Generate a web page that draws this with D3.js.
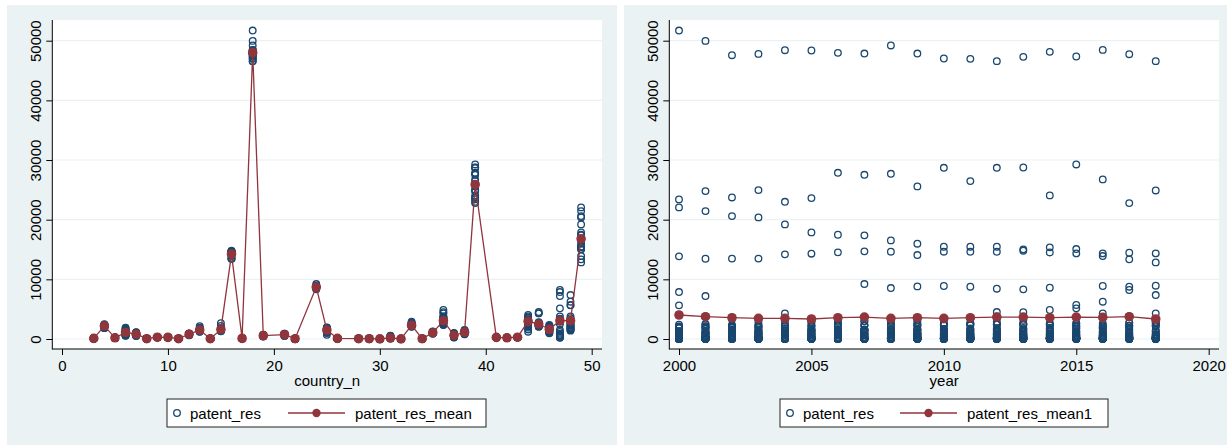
<!DOCTYPE html>
<html>
<head>
<meta charset="utf-8">
<script src="https://cdn.jsdelivr.net/npm/d3@7"></script>
<style>
  body { margin: 0; background: #fff; }
  text { font-family: "Liberation Sans", Arial, Helvetica, sans-serif; fill: #000; }
</style>
</head>
<body>
<svg id="chart"></svg>
<script>
// data
var years = [2000, 2001, 2002, 2003, 2004, 2005, 2006, 2007, 2008, 2009,
             2010, 2011, 2012, 2013, 2014, 2015, 2016, 2017, 2018];

var countryN = [3, 4, 5, 6, 7, 8, 9, 10, 11, 12, 13, 14, 15, 16, 17, 18, 19, 21, 22,
                24, 25, 26, 28, 29, 30, 31, 32, 33, 34, 35, 36, 37, 38, 39,
                41, 42, 43, 44, 45, 46, 47, 48, 49];

// patent_res, one row per country (same order as countryN), one value per year
var patentRes = [
  [60, 80, 90, 110, 120, 100, 90, 110, 130, 120, 100, 80, 90, 110, 120, 100, 90, 110, 120],
  [1820, 1900, 1960, 2050, 2130, 2080, 2210, 2270, 2190, 2330, 2360, 2290, 2410, 2480, 2350, 2260, 2300, 2180, 2240],
  [150, 170, 180, 200, 190, 210, 220, 230, 200, 210, 190, 220, 240, 210, 200, 190, 210, 230, 220],
  [1880, 1720, 1580, 1460, 1390, 1270, 1150, 1120, 1010, 980, 910, 870, 790, 740, 720, 660, 610, 580, 530],
  [1160, 1090, 1050, 970, 940, 870, 860, 800, 790, 750, 740, 690, 690, 640, 630, 590, 580, 530, 520],
  [30, 40, 50, 60, 50, 40, 60, 50, 40, 50, 60, 70, 50, 40, 50, 60, 50, 40, 60],
  [260, 280, 300, 310, 290, 320, 300, 280, 310, 330, 300, 290, 310, 320, 300, 280, 290, 310, 300],
  [240, 260, 270, 280, 290, 270, 260, 280, 300, 290, 280, 270, 290, 300, 280, 270, 260, 290, 300],
  [30, 40, 50, 60, 40, 50, 60, 50, 40, 50, 60, 50, 40, 60, 50, 40, 50, 60, 50],
  [620, 650, 700, 720, 750, 760, 780, 800, 810, 830, 850, 860, 870, 880, 900, 890, 870, 850, 840],
  [1220, 1260, 1300, 1330, 1360, 1400, 1420, 1450, 1470, 1500, 1530, 1550, 1580, 1610, 1650, 1700, 1780, 1880, 2150],
  [40, 50, 60, 50, 40, 50, 60, 50, 45, 55, 50, 40, 60, 50, 45, 55, 50, 40, 60],
  [1300, 1340, 1380, 1420, 1450, 1480, 1500, 1520, 1540, 1560, 1580, 1600, 1630, 1660, 1700, 1760, 1850, 2200, 2650],
  [13850, 13450, 13480, 13480, 14190, 14300, 14520, 14690, 14630, 14070, 14630, 14620, 14620, 14800, 14510, 14350, 14350, 14460, 14350],
  [80, 90, 100, 110, 100, 90, 120, 110, 100, 90, 100, 110, 120, 100, 90, 100, 110, 100, 90],
  [51700, 49970, 47570, 47790, 48410, 48360, 47960, 47850, 49200, 47850, 47020, 46960, 46570, 47290, 48130, 47350, 48460, 47740, 46570],
  [420, 450, 480, 500, 520, 540, 560, 580, 600, 620, 640, 660, 680, 700, 650, 600, 550, 500, 480],
  [520, 560, 600, 640, 660, 690, 700, 720, 740, 760, 780, 800, 820, 850, 880, 900, 860, 800, 760],
  [20, 30, 40, 50, 60, 50, 40, 60, 70, 50, 40, 30, 50, 60, 70, 50, 40, 60, 50],
  [null, null, null, null, null, null, null, 9210, 8540, 8820, 8880, 8770, 8430, 8320, 8600, null, 8880, 8770, 8930],
  [1950, 1900, 1850, 1800, 1750, 1700, 1650, 1600, 1550, 1500, 1450, 1400, 1350, 1300, 1250, 1200, 1100, 1000, 700],
  [80, 90, 100, 110, 100, 90, 120, 110, 100, 90, 100, 110, 120, 100, 90, 100, 110, 100, 90],
  [40, 50, 60, 50, 40, 50, 60, 50, 45, 55, 50, 40, 60, 50, 45, 55, 50, 40, 60],
  [30, 40, 50, 60, 50, 40, 60, 50, 40, 50, 60, 70, 50, 40, 50, 60, 50, 40, 60],
  [10, 20, 10, 0, 10, 30, 20, 10, 0, 20, 30, 10, 20, 10, 0, 20, 30, 10, 20],
  [100, 120, 150, 180, 200, 220, 250, 280, 310, 350, 400, 450, 500, 560, 230, 170, 140, 120, 100],
  [10, 20, 30, 20, 10, 30, 20, 10, 20, 30, 20, 10, 30, 20, 10, 20, 30, 10, 20],
  [2050, 2100, 2150, 2200, 2250, 2280, 2300, 2320, 2350, 2370, 2400, 2420, 2450, 2480, 2520, 2560, 2620, 2700, 2880],
  [40, 50, 60, 50, 40, 50, 60, 50, 45, 55, 50, 40, 60, 50, 45, 55, 50, 40, 60],
  [900, 930, 960, 980, 1000, 1020, 1040, 1050, 1060, 1070, 1080, 1090, 1100, 1120, 1140, 1160, 1180, 1220, 1250],
  [2400, 2500, 2350, 2600, 2700, 2800, 2900, 3000, 3100, 3200, 3300, 3400, 3500, 4500, 4860, 3600, 3700, 3800, 4300],
  [1000, 950, 900, 850, 800, 750, 700, 650, 600, 580, 560, 540, 520, 500, 450, 400, 350, 300, 250],
  [800, 850, 900, 950, 1000, 1050, 1080, 1100, 1120, 1150, 1180, 1200, 1230, 1260, 1300, 1350, 1400, 1450, 1500],
  [23400, 24790, 23730, 24960, 23000, 23620, 27860, 27520, 27690, 25580, 28700, 26470, 28700, 28750, 24070, 29260, 26750, 22780, 24900],
  [240, 260, 270, 280, 290, 270, 260, 280, 300, 290, 280, 270, 290, 300, 280, 270, 260, 290, 300],
  [150, 170, 180, 200, 190, 210, 220, 230, 200, 210, 190, 220, 240, 210, 200, 190, 210, 230, 220],
  [260, 280, 300, 310, 290, 320, 300, 280, 310, 330, 300, 290, 310, 320, 300, 280, 290, 310, 300],
  [4020, 3800, 3600, 3500, 3300, 3200, 3100, 3000, 2900, 2800, 2700, 2600, 2500, 2400, 2300, 2100, 1900, 1600, 1220],
  [2100, 2150, 2060, 2200, 4300, 2250, 2300, 2350, 2400, 2450, 2500, 2550, 4520, 2600, 2650, 2700, 4300, 2750, 2800],
  [950, 1050, 1150, 1250, 1350, 1450, 1500, 1550, 1600, 1650, 1700, 1750, 1800, 1850, 1900, 2000, 2100, 2250, 2350],
  [7870, 7200, 3300, 3100, 3400, 2900, 2500, 1500, 1200, 900, 700, 500, 3800, 300, 200, 5140, 600, 8210, 300],
  [5640, 2500, 2200, 2000, 1800, 1600, 1400, 1500, 1700, 2000, 2300, 2600, 2900, 3200, 3500, 5700, 6250, 3800, 7370],
  [22060, 21440, 20600, 20380, 19210, 17870, 17470, 17370, 16530, 15970, 15460, 15460, 15460, 15030, 15360, 15080, 13900, 13350, 12840]
];

// patent_res_mean by country, patent_res_mean1 by year
var resMean = [100, 2200, 200, 1100, 800, 50, 300, 280, 50, 800, 1500, 50, 1600, 14240, 100, 48000, 560,
               720, 50, 8700, 1500, 100, 50, 50, 20, 200, 20, 2300, 50, 1060, 3070, 620, 1120, 25900,
               280, 200, 300, 2960, 2510, 1620, 3070, 3070, 16800];
var resMean1 = [4020, 3740, 3570, 3460, 3460, 3350, 3570, 3680, 3460, 3570,
                3460, 3570, 3680, 3680, 3570, 3680, 3620, 3740, 3350];

var yTicks = [0, 10000, 20000, 30000, 40000, 50000];
var countryTicks = [0, 10, 20, 30, 40, 50];
var yearTicks = [2000, 2005, 2010, 2015, 2020];

var navy = "#1a476f";
var maroon = "#90353b";
var bg = "#eaf2f3";

var svg = d3.select("#chart")
    .attr("width", 1228)
    .attr("height", 445);

var y = d3.scaleLinear().domain([0, 50000]).range([339, 40.7]);

function drawPanel(p) {
    var g = svg.append("g");

    // outer graph region
    g.append("rect")
        .attr("x", p.bgX).attr("y", 5)
        .attr("width", p.bgW).attr("height", 440)
        .attr("fill", bg);

    // plot region
    g.append("rect")
        .attr("x", p.left).attr("y", 20)
        .attr("width", p.right - p.left).attr("height", 329)
        .attr("fill", "#fff");

    // grid
    g.selectAll("line.grid")
        .data(yTicks)
        .enter()
        .append("line")
        .attr("class", "grid")
        .attr("x1", p.left).attr("x2", p.right)
        .attr("y1", function (d) { return y(d); })
        .attr("y2", function (d) { return y(d); })
        .attr("stroke", bg)
        .attr("stroke-width", 1.2);

    // x axis
    var xAxis = g.append("g")
        .attr("transform", "translate(0,349)")
        .call(d3.axisBottom(p.x).tickValues(p.xTicks).tickSize(6).tickPadding(5).tickFormat(d3.format("d")));
    xAxis.select(".domain").remove();
    xAxis.selectAll("text").attr("font-size", "15px");

    // y axis
    var yAxis = g.append("g")
        .attr("transform", "translate(" + p.left + ",0)")
        .call(d3.axisLeft(y).tickValues(yTicks).tickSize(6).tickFormat(d3.format("d")));
    yAxis.select(".domain").remove();
    yAxis.selectAll("text")
        .attr("font-size", "15px")
        .attr("text-anchor", "middle")
        .attr("transform", "rotate(-90)")
        .attr("x", 0)
        .attr("y", -11.6)
        .attr("dy", 0);

    // axis lines
    g.append("line")
        .attr("x1", p.left).attr("x2", p.left)
        .attr("y1", 20).attr("y2", 349.5)
        .attr("stroke", "#000").attr("stroke-width", 1);
    g.append("line")
        .attr("x1", p.left).attr("x2", p.right)
        .attr("y1", 349).attr("y2", 349)
        .attr("stroke", "#000").attr("stroke-width", 1);

    // axis title
    g.append("text")
        .text(p.xTitle)
        .attr("x", (p.left + p.right) / 2)
        .attr("y", 386)
        .attr("text-anchor", "middle")
        .attr("font-size", "15px");

    // patent_res circles
    g.selectAll("circle.res")
        .data(p.points)
        .enter()
        .append("circle")
        .attr("class", "res")
        .attr("cx", function (d) { return p.x(d[0]); })
        .attr("cy", function (d) { return y(d[1]); })
        .attr("r", 3.3)
        .attr("fill", "none")
        .attr("stroke", navy)
        .attr("stroke-width", 1.3);

    // mean line
    var line = d3.line()
        .x(function (d) { return p.x(d[0]); })
        .y(function (d) { return y(d[1]); });
    g.append("path")
        .datum(p.means)
        .attr("d", line)
        .attr("fill", "none")
        .attr("stroke", maroon)
        .attr("stroke-width", 1.3);
    g.selectAll("circle.mean")
        .data(p.means)
        .enter()
        .append("circle")
        .attr("class", "mean")
        .attr("cx", function (d) { return p.x(d[0]); })
        .attr("cy", function (d) { return y(d[1]); })
        .attr("r", 4.8)
        .attr("fill", maroon);

    // legend
    var lg = p.legend;
    g.append("rect")
        .attr("x", lg.x).attr("y", 399)
        .attr("width", lg.w).attr("height", 28)
        .attr("fill", "#fff")
        .attr("stroke", "#222")
        .attr("stroke-width", 1);
    g.append("circle")
        .attr("cx", lg.x + 10).attr("cy", 413)
        .attr("r", 3.3)
        .attr("fill", "none")
        .attr("stroke", navy)
        .attr("stroke-width", 1.3);
    g.append("text")
        .text("patent_res")
        .attr("x", lg.x + 23).attr("y", 418.5)
        .attr("font-size", "15px");
    g.append("line")
        .attr("x1", lg.lineX).attr("x2", lg.lineX + 57)
        .attr("y1", 413).attr("y2", 413)
        .attr("stroke", maroon)
        .attr("stroke-width", 1.3);
    g.append("circle")
        .attr("cx", lg.lineX + 28.5).attr("cy", 413)
        .attr("r", 4.2)
        .attr("fill", maroon);
    g.append("text")
        .text(lg.label)
        .attr("x", lg.lineX + 67).attr("y", 418.5)
        .attr("font-size", "15px");
}

// left panel: by country
var byCountry = [];
countryN.forEach(function (c, i) {
    patentRes[i].forEach(function (v) {
        if (v !== null) byCountry.push([c, v]);
    });
});
drawPanel({
    bgX: 7, bgW: 610,
    left: 52.3, right: 602,
    x: d3.scaleLinear().domain([0, 50]).range([62, 591.7]),
    xTicks: countryTicks,
    xTitle: "country_n",
    points: byCountry,
    means: countryN.map(function (c, i) { return [c, resMean[i]]; }),
    legend: { x: 167, w: 319, lineX: 288, label: "patent_res_mean" }
});

// right panel: by year
var byYear = [];
years.forEach(function (yr, j) {
    patentRes.forEach(function (row) {
        if (row[j] !== null) byYear.push([yr, row[j]]);
    });
});
drawPanel({
    bgX: 624, bgW: 603,
    left: 669.3, right: 1219,
    x: d3.scaleLinear().domain([2000, 2020]).range([679, 1208.7]),
    xTicks: yearTicks,
    xTitle: "year",
    points: byYear,
    means: years.map(function (yr, j) { return [yr, resMean1[j]]; }),
    legend: { x: 780, w: 328, lineX: 900, label: "patent_res_mean1" }
});
</script>
</body>
</html>
